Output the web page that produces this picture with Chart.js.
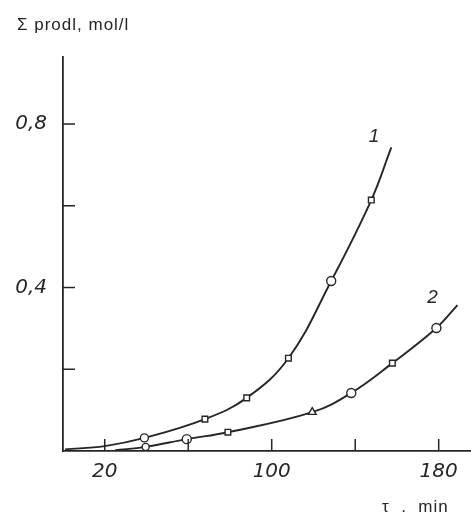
<!DOCTYPE html>
<html>
<head>
<meta charset="utf-8">
<script src="https://cdn.jsdelivr.net/npm/chart.js@4/dist/chart.umd.min.js"></script>
<style>
  html, body { margin: 0; padding: 0; background: #fff; }
  #wrap { width: 471px; height: 522px; }
</style>
</head>
<body>
<div id="wrap"><canvas id="myChart"></canvas></div>
<script>
'use strict';

// data
let curveOneX = [1, 20, 39, 68, 88, 108, 128.5, 147.7, 157.3];
let curveOneY = [0.004, 0.012, 0.032, 0.078, 0.13, 0.227, 0.416, 0.614, 0.743];
let curveTwoX = [25, 39.6, 59.3, 79, 119.4, 138.1, 157.8, 178.9, 189];
let curveTwoY = [0.002, 0.01, 0.029, 0.046, 0.095, 0.142, 0.215, 0.301, 0.357];

let xTicks = [20, 60, 100, 140, 180];
let xLabels = ['20', '', '100', '', '180'];
let yTicks = [0.2, 0.4, 0.6, 0.8];
let yLabels = ['', '0,4', '', '0,8'];

let curveNames = ['1', '2'];
let namePosX = [149, 177];
let namePosY = [0.77, 0.375];

// marker shapes (first and last points are plain line ends)
let shapesOne = ['circle', 'circle', 'circle', 'rect', 'rect', 'rect', 'circle', 'rect', 'circle'];
let radiusOne = [0, 0, 4, 4, 4, 4, 4.5, 4, 0];
let shapesTwo = ['circle', 'circle', 'circle', 'rect', 'triangle', 'circle', 'rect', 'circle', 'circle'];
let radiusTwo = [0, 3.5, 4.5, 4, 4.5, 4.5, 4, 4.5, 0];

let ink = '#262626';
let tickFont = { family: '"Liberation Sans Narrow", "DejaVu Sans", sans-serif', size: 20, style: 'italic' };

function toPoints(xs, ys) {
  let pts = [];
  for (let i = 0; i < xs.length; i++) {
    pts.push({ x: xs[i], y: ys[i] });
  }
  return pts;
}

// short inward tick marks, curve names and axis titles
let extras = {
  id: 'extras',
  afterDraw(chart) {
    let c = chart.ctx;
    let xs = chart.scales.x;
    let ys = chart.scales.y;
    let area = chart.chartArea;
    c.save();
    c.strokeStyle = ink;
    c.lineWidth = 1.5;
    for (let i = 0; i < xTicks.length; i++) {
      let px = xs.getPixelForValue(xTicks[i]);
      c.beginPath();
      c.moveTo(px, area.bottom);
      c.lineTo(px, area.bottom - 12);
      c.stroke();
    }
    for (let i = 0; i < yTicks.length; i++) {
      let py = ys.getPixelForValue(yTicks[i]);
      c.beginPath();
      c.moveTo(area.left, py);
      c.lineTo(area.left + 12, py);
      c.stroke();
    }
    c.fillStyle = ink;
    c.font = 'italic 19px "Liberation Sans Narrow", sans-serif';
    c.textAlign = 'center';
    c.textBaseline = 'middle';
    for (let i = 0; i < curveNames.length; i++) {
      c.fillText(curveNames[i], xs.getPixelForValue(namePosX[i]), ys.getPixelForValue(namePosY[i]));
    }
    c.font = '17px "Liberation Sans Narrow", sans-serif';
    c.letterSpacing = '1px';
    c.textAlign = 'left';
    c.fillText('\u03A3 prodl, mol/l', area.left - 46, 25);
    c.fillText('\u03C4  .  min', area.right - 88, 507);
    c.restore();
  }
};

let ctx = document.getElementById('myChart').getContext('2d');

let myChartObj = {
  type: 'line',
  data: {
    datasets: [{
      label: '1',
      data: toPoints(curveOneX, curveOneY),
      borderColor: ink,
      borderWidth: 1.9,
      backgroundColor: '#fff',
      pointBorderColor: ink,
      pointBorderWidth: 1.4,
      pointStyle: shapesOne,
      pointRadius: radiusOne,
      tension: 0.4
    },
    {
      label: '2',
      data: toPoints(curveTwoX, curveTwoY),
      borderColor: ink,
      borderWidth: 1.9,
      backgroundColor: '#fff',
      pointBorderColor: ink,
      pointBorderWidth: 1.4,
      pointStyle: shapesTwo,
      pointRadius: radiusTwo,
      tension: 0.4
    }]
  },
  options: {
    responsive: true,
    maintainAspectRatio: false,
    animation: false,
    layout: { padding: { top: 57, right: 1 } },
    plugins: {
      legend: { display: false },
      tooltip: { enabled: false }
    },
    scales: {
      x: {
        type: 'linear',
        min: 0,
        max: 195,
        grid: { display: false, drawTicks: false },
        border: { display: true, color: ink, width: 1.8 },
        afterBuildTicks: function (axis) {
          axis.ticks = xTicks.map(function (v) { return { value: v }; });
        },
        afterFit: function (axis) { axis.height = 71; },
        ticks: {
          color: ink,
          font: tickFont,
          padding: 9,
          maxRotation: 0,
          autoSkip: false,
          callback: function (value) {
            let i = xTicks.indexOf(value);
            return i >= 0 ? xLabels[i] : '';
          }
        }
      },
      y: {
        type: 'linear',
        min: 0,
        max: 0.964,
        grid: { display: false, drawTicks: false },
        border: { display: true, color: ink, width: 1.8 },
        afterBuildTicks: function (axis) {
          axis.ticks = yTicks.map(function (v) { return { value: v }; });
        },
        afterFit: function (axis) { axis.width = 63; },
        ticks: {
          color: ink,
          font: tickFont,
          padding: 16,
          autoSkip: false,
          callback: function (value) {
            let i = yTicks.indexOf(value);
            return i >= 0 ? yLabels[i] : '';
          }
        }
      }
    }
  },
  plugins: [extras]
};

const myChart = new Chart(ctx, myChartObj);
</script>
</body>
</html>
